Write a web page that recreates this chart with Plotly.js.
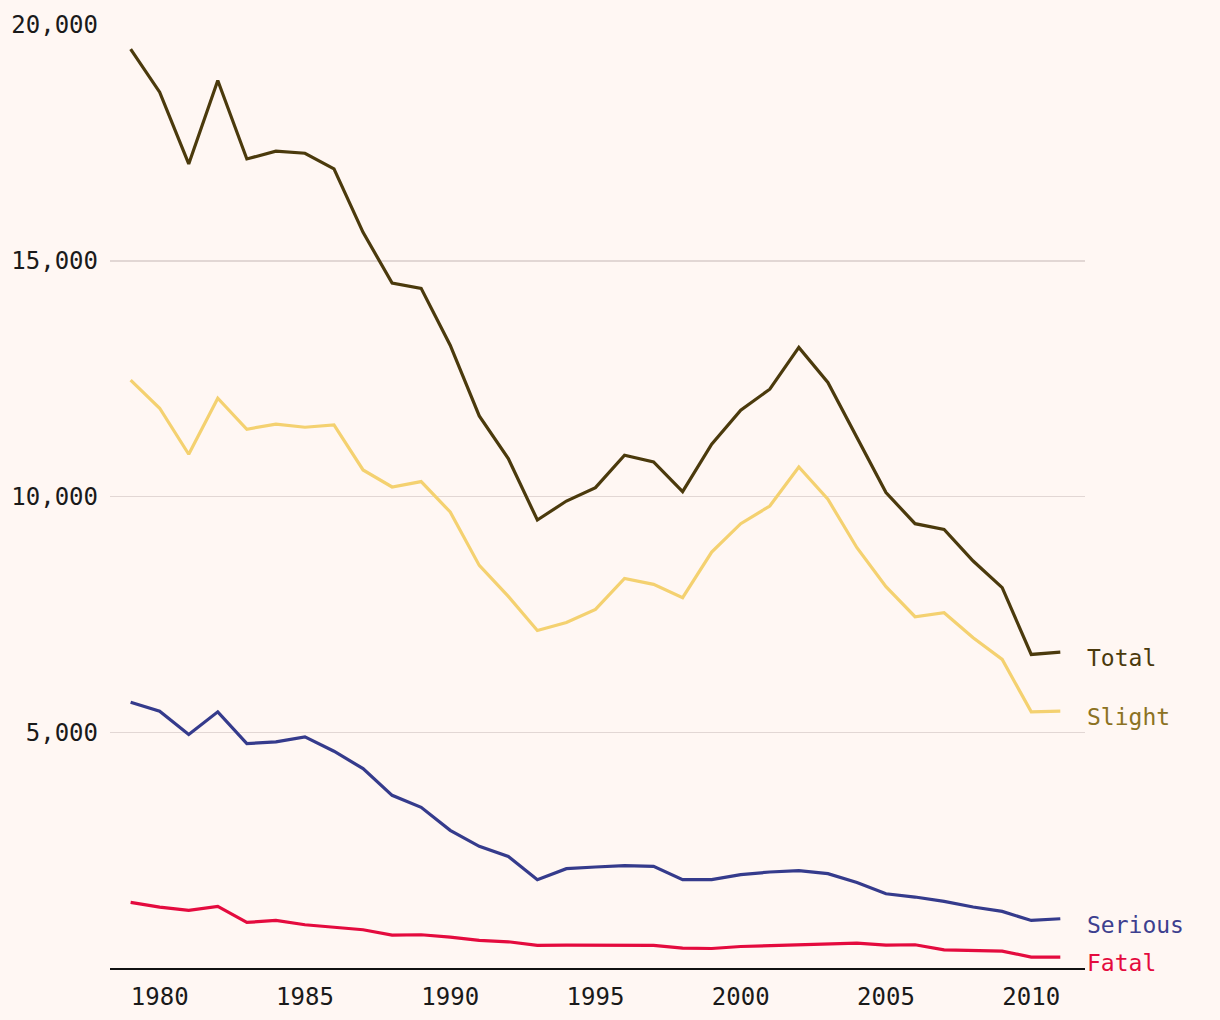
<!DOCTYPE html>
<html>
<head>
<meta charset="utf-8">
<script src="https://cdn.plot.ly/plotly-3.0.1.min.js"></script>
<style>
html,body{margin:0;padding:0;background:#fff7f3;}
#chart{width:1220px;height:1020px;}
</style>
</head>
<body>
<div id="chart"></div>
<script>
const years = [1979,1980,1981,1982,1983,1984,1985,1986,1987,1988,1989,1990,1991,1992,1993,1994,1995,1996,1997,1998,1999,2000,2001,2002,2003,2004,2005,2006,2007,2008,2009,2010,2011];
const total   = [19490,18575,17053,18822,17159,17323,17280,16947,15603,14527,14414,13210,11709,10804,9501,9904,10189,10875,10733,10104,11108,11830,12276,13161,12418,11250,10083,9424,9303,8631,8066,6650,6699];
const slight  = [12467,11872,10896,12084,11427,11533,11469,11518,10563,10202,10316,9671,8539,7881,7159,7329,7605,8263,8136,7853,8821,9424,9798,10626,9941,8914,8087,7450,7535,7004,6544,5433,5446];
const serious = [5637,5446,4951,5433,4760,4796,4902,4597,4229,3662,3408,2919,2580,2367,1873,2106,2142,2170,2155,1873,1873,1979,2036,2064,2000,1812,1575,1505,1412,1293,1200,1009,1045];
const fatal   = [1391,1293,1221,1306,966,1009,917,868,811,698,705,656,584,556,478,486,478,486,478,422,414,456,478,486,507,528,486,493,386,365,359,231,231];
const seriesNames = ["Total","Slight","Serious","Fatal"];
const yTickVals = [5000,10000,15000,20000];
const yTickText = ["5,000","10,000","15,000","20,000"];
const xTickVals = [1980,1985,1990,1995,2000,2005,2010];

const lineColors = ["#4b3a0c","#f4d170","#353b8c","#e40b3e"];
const labelColors = ["#4b3a0c","#8c7222","#3d3f8f","#e40b3e"];
const seriesData = [total, slight, serious, fatal];
const FONT = "DejaVu Sans Mono, monospace";

const traces = seriesData.map((d,i)=>({
  x: years, y: d, type:'scatter', mode:'lines', name: seriesNames[i],
  line:{color: lineColors[i], width:3.2}, hoverinfo:'x+y'
}));

const annotations = seriesData.map((d,i)=>({
  x: years[years.length-1], y: d[d.length-1], xref:'x', yref:'y',
  text: seriesNames[i], showarrow:false, xanchor:'left', yanchor:'middle',
  xshift: 25, yshift: -6,
  font:{family: FONT, size: 23, color: labelColors[i]}
}));

const layout = {
  width:1220, height:1020,
  paper_bgcolor:'#fff7f3', plot_bgcolor:'#fff7f3',
  margin:{l:110, r:135, t:25, b:52},
  showlegend:false,
  font:{family: FONT, size:24, color:'#1a1a1a'},
  xaxis:{
    range:[1978.29, 2011.85], tickvals: xTickVals, ticktext: xTickVals.map(String),
    showgrid:false, zeroline:false, showline:true, linecolor:'#111', linewidth:2,
    ticks:'', ticklabelstandoff: 6,
    tickfont:{family: FONT, size:24, color:'#1a1a1a'}
  },
  yaxis:{
    range:[0, 20000], tickvals: yTickVals, ticktext: yTickText,
    showgrid:true, gridcolor:'#e2d7d4', gridwidth:1.5, zeroline:false, showline:false,
    ticks:'', ticklabelstandoff: 11,
    tickfont:{family: FONT, size:24, color:'#1a1a1a'}
  },
  annotations: annotations
};

Plotly.newPlot('chart', traces, layout, {displayModeBar:false, staticPlot:true});
</script>
</body>
</html>
